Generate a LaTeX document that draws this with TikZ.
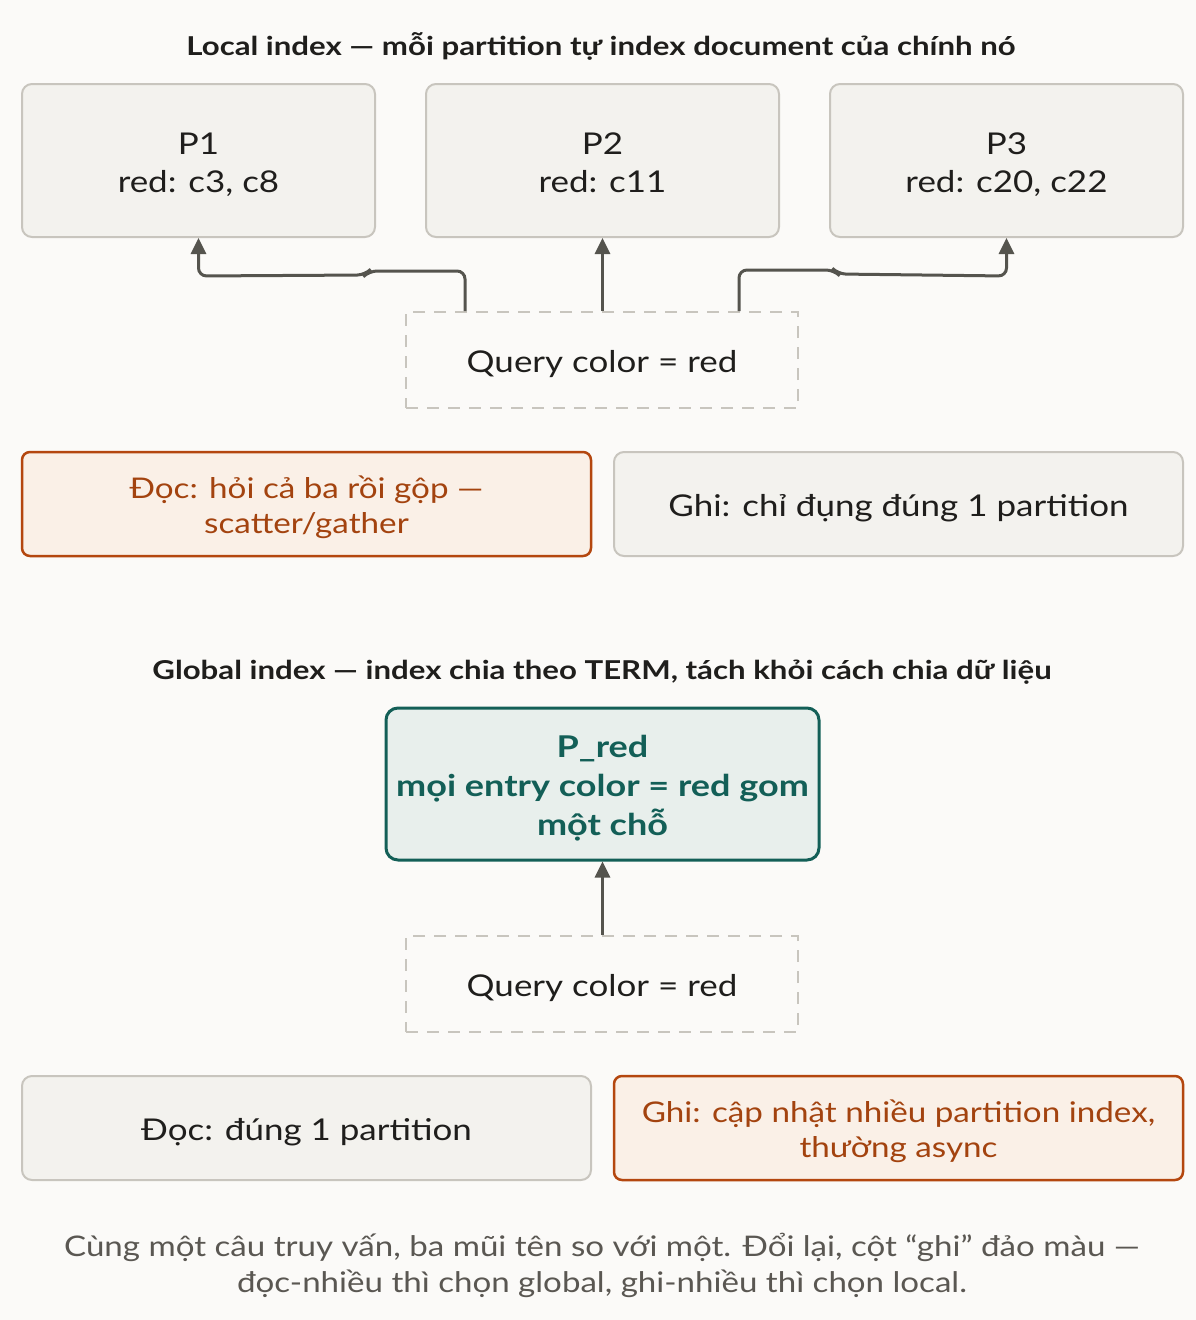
\documentclass[tikz,border=0pt]{standalone}
\usepackage{fontspec}
\setmainfont{Lato}[FakeStretch=1.165]
\newfontfamily\boldf{Lato}[FakeStretch=1.2]
\usetikzlibrary{arrows.meta}
\definecolor{bgc}{HTML}{FBFAF8}
\definecolor{grayfill}{HTML}{F3F2EE}
\definecolor{grayline}{HTML}{C8C5BE}
\definecolor{orfill}{HTML}{FAF0E7}
\definecolor{orline}{HTML}{B4470F}
\definecolor{ortext}{HTML}{A3430F}
\definecolor{tealfill}{HTML}{E8EFEC}
\definecolor{teal}{HTML}{135F57}
\definecolor{arrowc}{HTML}{55544E}
\definecolor{darktext}{HTML}{1F1E1C}
\definecolor{foot}{HTML}{5A5752}
\tikzset{
  graybox/.style={draw=grayline, fill=grayfill, line width=2pt, rounded corners=10pt, inner sep=0pt},
  orbox/.style={draw=orline, fill=orfill, line width=2.5pt, rounded corners=8pt, inner sep=0pt, minimum width=569pt, minimum height=104pt},
  querybox/.style={draw=grayline, dash pattern=on 12pt off 9pt, line width=2pt, inner sep=0pt, minimum width=392pt, minimum height=96pt},
  tealbox/.style={draw=teal, fill=tealfill, line width=3pt, rounded corners=12pt, inner sep=0pt, minimum width=433pt, minimum height=152pt},
  pbox/.style={graybox, minimum width=353pt, minimum height=153pt},
  wide/.style={graybox, minimum width=569pt, minimum height=104pt},
  graytext/.style={inner sep=0pt, align=center, text=darktext, font=\fontsize{30}{38}\selectfont, yshift=-5pt},
  ortextst/.style={inner sep=0pt, align=center, text=ortext, font=\fontsize{28.5}{35}\selectfont, yshift=-5pt},
  tealtext/.style={inner sep=0pt, align=center, text=teal, font=\boldf\bfseries\fontsize{30}{39}\selectfont, yshift=-5pt},
  titletext/.style={inner sep=0pt, anchor=base, font=\boldf\bfseries\fontsize{26}{32}\selectfont, text=darktext},
  foottext/.style={inner sep=0pt, font=\fontsize{28.4}{36}\selectfont, text=foot, align=center},
  arr/.style={draw=arrowc, line width=3pt, rounded corners=8pt, -{Triangle[width=15pt,length=16pt]}},
}
\begin{document}
\begin{tikzpicture}[x=1pt,y=-1pt]
\fill[bgc] (0,0) rectangle (1196,1320);
\useasboundingbox (0,0) rectangle (1196,1320);

% Local index
\node[titletext] (t1) at (601,55) {Local index — mỗi partition tự index document của chính nó};
\node[pbox] (p1) at (198.5,160.5) {};
\node[pbox] (p2) at (602.5,160.5) {};
\node[pbox] (p3) at (1006.5,160.5) {};
\node[graytext] (p1t) at (p1.center) {\strut P1\\\strut red: c3, c8};
\node[graytext] (p2t) at (p2.center) {\strut P2\\\strut red: c11};
\node[graytext] (p3t) at (p3.center) {\strut P3\\\strut red: c20, c22};
\node[querybox] (q1) at (602,360) {};
\node[graytext] (q1t) at (q1.center) {\strut Query color = red};

\draw[arr] ([xshift=-137pt]q1.north) -- ++(0,-40) -- ++(-96,0) -- ++(-4,4) -- (p1.south |- 0,276) -- (p1.south);
\draw[arr] (q1.north -| p2.south) -- (p2.south);
\draw[arr] ([xshift=137pt]q1.north) -- ++(0,-41) -- ++(95,0) -- ++(4,4) -- (p3.south |- 0,276) -- (p3.south);

\node[orbox] (r1) at (306.5,504) {};
\node[ortextst] (r1t) at (r1.center) {\strut Đọc: hỏi cả ba rồi gộp —\\\strut scatter/gather};
\node[wide] (w1) at (898.5,504) {};
\node[graytext] (w1t) at (w1.center) {\strut Ghi: chỉ đụng đúng 1 partition};

% Global index
\node[titletext] (t2) at (602,679) {Global index — index chia theo TERM, tách khỏi cách chia dữ liệu};
\node[tealbox] (pr) at (602.5,784) {};
\node[tealtext] (prt) at (pr.center) {\strut P\_red\\\strut mọi entry color = red gom\\\strut một chỗ};
\node[querybox] (q2) at (602,984) {};
\node[graytext] (q2t) at (q2.center) {\strut Query color = red};
\draw[arr] (q2.north -| pr.south) -- (pr.south);

\node[wide] (r2) at (306.5,1128) {};
\node[graytext] (r2t) at (r2.center) {\strut Đọc: đúng 1 partition};
\node[orbox] (w2) at (898.5,1128) {};
\node[ortextst] (w2t) at (w2.center) {\strut Ghi: cập nhật nhiều partition index,\\\strut thường async};

\node[foottext] (f) at (602,1267.5) {\strut Cùng một câu truy vấn, ba mũi tên so với một. Đổi lại, cột “ghi” đảo màu —\\\strut đọc-nhiều thì chọn global, ghi-nhiều thì chọn local.};
\end{tikzpicture}
\end{document}
